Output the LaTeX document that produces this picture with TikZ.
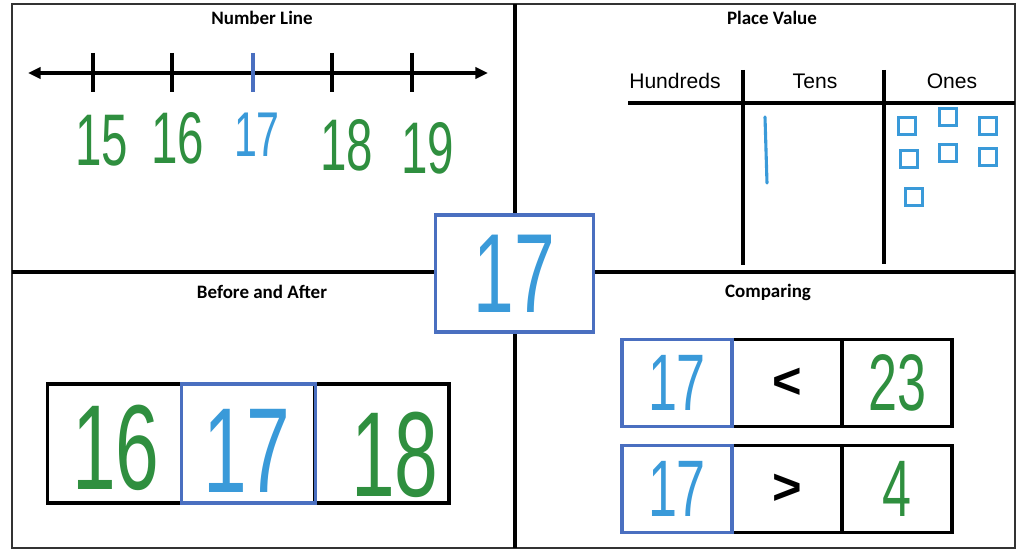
\documentclass[tikz,border=0pt]{standalone}
\usepackage{fontspec}
\setmainfont{Liberation Sans}
\newfontfamily\titlefont{Carlito}
\newfontfamily\handfont[FakeStretch=0.65]{Liberation Sans}
\usetikzlibrary{arrows.meta,positioning}
\definecolor{nsGreen}{HTML}{2F8F3F}
\definecolor{nsSky}{HTML}{3A9AD9}
\definecolor{nsBlue}{HTML}{4A6FC0}
\tikzset{
  divider/.style={line width=2.6pt, black},
  frame/.style={line width=0.8pt, black!80},
  paneltitle/.style={font=\titlefont\bfseries\fontsize{13.5}{15}\selectfont, inner sep=0pt},
  header/.style={font=\fontsize{15}{17}\selectfont, inner sep=0pt, anchor=base},
  handnum/.style={font=\handfont\fontsize{#1}{#1}\selectfont, inner sep=0pt},
  green/.style={text=nsGreen},
  sky/.style={text=nsSky},
  tickmark/.style={line width=2.4pt, black},
  numline/.style={line width=2.2pt, {Triangle[length=9pt,width=8pt]}-{Triangle[length=9pt,width=8pt]}},
  pvline/.style={line width=2.4pt, black},
  rod/.style={line width=2.2pt, nsSky, line cap=round},
  onesq/.style={draw=nsSky, line width=2.2pt, minimum size=12.5pt, inner sep=0pt},
  bacell/.style={draw=black, line width=2.5pt, minimum width=95pt, minimum height=84.5pt, inner sep=0pt},
  cmpcell/.style={draw=black, line width=2.5pt, minimum width=78pt, minimum height=62pt, inner sep=0pt},
  bluecell/.style={draw=nsBlue},
  sign/.style={font=\bfseries\fontsize{36}{36}\selectfont}
}
\begin{document}
\begin{tikzpicture}[x=0.025cm, y=-0.025cm]
  \useasboundingbox (0,0) rectangle (1020,550);
  \fill[white] (0,0) rectangle (1020,550);
  \draw[frame] (12,4) rectangle (1015,548);
  \draw[divider] (515,4) -- (515,548);
  \draw[divider] (12,272) -- (1015,272);

  \node[paneltitle] (tNL) at (262,18) {Number Line};
  \node[paneltitle] (tPV) at (772,18) {Place Value};
  \node[paneltitle] (tBA) at (262,292) {Before and After};
  \node[paneltitle] (tCP) at (768,292) {Comparing};

  \coordinate (nlL) at (28,73);
  \coordinate (nlR) at (488,73);
  \draw[numline] (nlL) -- (nlR);
  \foreach \x/\c in {93/black,172/black,253/nsBlue,332/black,412/black}
    \draw[tickmark, \c] (\x,53) -- (\x,92);
  \foreach \x/\y/\n in {102/141/15,178/138/16,347/145/18,428/148/19}
    \node[handnum=52, green] (nl\n) at (\x,\y) {\n};
  \node[handnum=45, sky] (nl17) at (257,135) {17};

  \node[header] (hH) at (675,89) {Hundreds};
  \node[header] (hT) at (815,89) {Tens};
  \node[header] (hO) at (952,89) {Ones};
  \coordinate (pvL) at (628,103);
  \coordinate (pvR) at (1015,103);
  \draw[pvline] (pvL) -- (pvR);
  \draw[pvline] (743,70) -- (743,265);
  \draw[pvline] (884,70) -- (884,264);
  \draw[rod] (765,117) -- (767,183);
  \foreach \x/\y [count=\i] in {907/126,948/117,988/126,909/159,948/153,988/157,914/197}
    \node[onesq] (sq\i) at (\x,\y) {};

  \node[bacell] (ba16) at (114.5,443.5) {};
  \node[bacell] (ba18) at (382,443.5) {};
  \node[bacell, bluecell] (ba17) at (248.5,443.5) {};
  \node[handnum=86, green] at (116,448) {16};
  \node[handnum=86, sky] at (247,451) {17};
  \node[handnum=86, green] at (395,455) {18};

  \foreach \r/\y/\s/\v in {1/383/</23,2/489/>/4}{
    \node[cmpcell] (c\r b) at (787,\y) {};
    \node[cmpcell] (c\r c) at (897,\y) {};
    \node[cmpcell, bluecell] (c\r a) at (677,\y) {};
    \node[handnum=57, sky] at (c\r a) {17};
    \node[sign] at (c\r b) {\s};
    \node[handnum=57, green] at (c\r c) {\v};
  }

  \node[draw=nsBlue, line width=2.4pt, fill=white, minimum width=112pt, minimum height=83pt] (centre) at (514.5,273.5) {};
  \node[handnum=80, sky] at (centre) {17};
\end{tikzpicture}
\end{document}
